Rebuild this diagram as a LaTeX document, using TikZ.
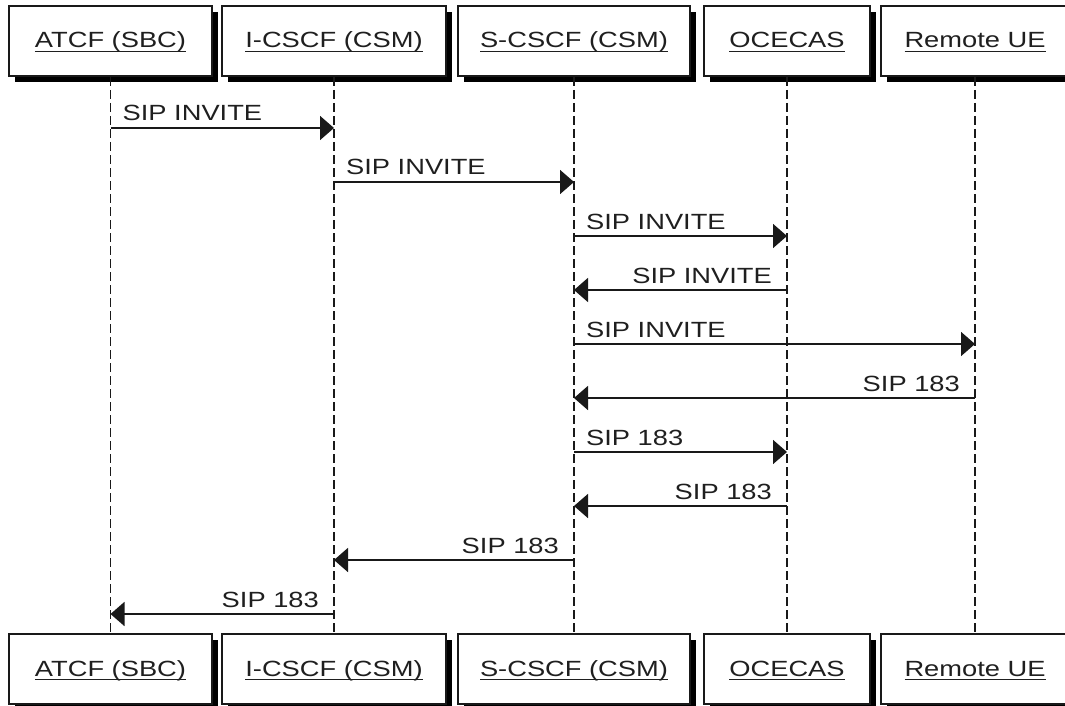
\documentclass[tikz,border=0pt]{standalone}
\usepackage{fontspec}
\setmainfont{Liberation Sans}[FakeStretch=1.24]
\usetikzlibrary{arrows.meta,shadows}
% underlined participant name, rule drawn just under the baseline
\newcommand\ulabel[1]{\sbox0{#1}\rlap{\rule[-4.2pt]{\wd0}{1.5pt}}\usebox0}

\begin{document}
\begin{tikzpicture}[x=1pt,y=-1pt,
  actor/.style={draw=black!90, line width=2pt, fill=white,
    minimum height=70pt, inner sep=0pt, text height=16pt, text depth=2pt,
    font=\fontsize{22}{26}\selectfont, text=black!88,
    drop shadow={shadow xshift=6pt, shadow yshift=-6pt, opacity=1, fill=black}},
  life/.style={draw=black!90, line width=1.6pt, dash pattern=on 9pt off 4pt},
  msg/.style={draw=black!90, line width=1.7pt, -{Triangle[length=14pt,width=24pt]}},
  lbl/.style={font=\fontsize{22}{26}\selectfont, text=black!88, inner sep=0pt}]
\useasboundingbox (0,0) rectangle (1065,706);
\clip (0,0) rectangle (1065,706);

% participants, top and bottom
\foreach \n/\x/\w/\t in {atcf/110.5/203/ATCF (SBC), icscf/334/224/I-CSCF (CSM),
    scscf/574/232/S-CSCF (CSM), ocecas/787/166/OCECAS, ue/975/188/Remote UE} {
  \node[actor, minimum width=\w pt] (t\n) at (\x,41) {\ulabel{\t}};
  \node[actor, minimum width=\w pt] (b\n) at (\x,669) {\ulabel{\t}};
}

% lifelines
\foreach \n in {atcf,icscf,scscf,ocecas,ue}
  \draw[life] (t\n.south) -- (b\n.north);

% messages going right
\foreach \a/\b/\y/\t in {atcf/icscf/128/SIP INVITE, icscf/scscf/182/SIP INVITE,
    scscf/ocecas/236/SIP INVITE, scscf/ue/344/SIP INVITE, scscf/ocecas/452/SIP 183} {
  \draw[msg] (t\a |- 0,\y) -- (t\b |- 0,\y);
  \node[lbl, anchor=base west] at ([xshift=12pt, yshift=7pt] t\a |- 0,\y) {\t};
}

% messages going left
\foreach \a/\b/\y/\t in {ocecas/scscf/290/SIP INVITE, ue/scscf/398/SIP 183,
    ocecas/scscf/506/SIP 183, scscf/icscf/560/SIP 183, icscf/atcf/614/SIP 183} {
  \draw[msg] (t\a |- 0,\y) -- (t\b |- 0,\y);
  \node[lbl, anchor=base east] at ([xshift=-15pt, yshift=7pt] t\a |- 0,\y) {\t};
}
\end{tikzpicture}
\end{document}
